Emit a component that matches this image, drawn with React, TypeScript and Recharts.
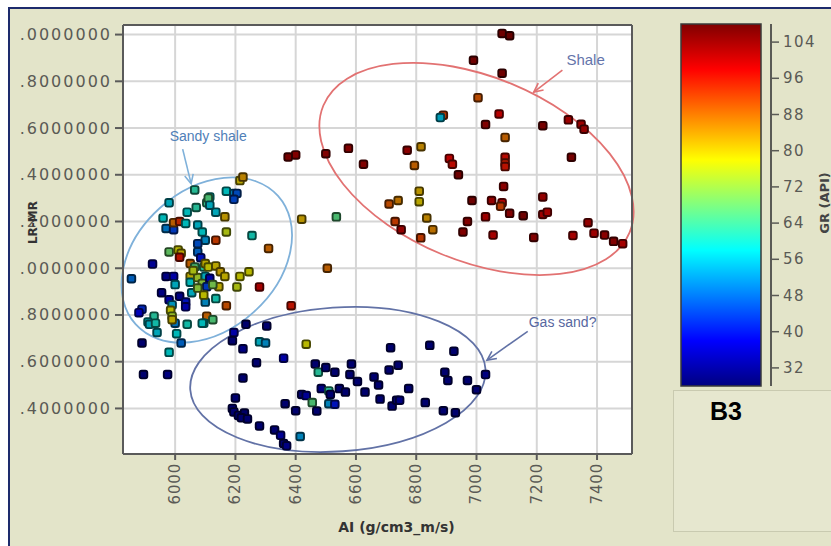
import React from 'react';
import {
  ScatterChart,
  Scatter,
  XAxis,
  YAxis,
  CartesianGrid,
  ReferenceArea,
  ReferenceLine,
} from 'recharts';

// Axis ticks
const AI_TICKS = [6000, 6200, 6400, 6600, 6800, 7000, 7200, 7400];
const RATIO_TICKS = [1.4, 1.6, 1.8, 2.0, 2.2, 2.4, 2.6, 2.8, 3.0];
const GR_TICKS = [32, 40, 48, 56, 64, 72, 80, 88, 96, 104];

const AI_DOMAIN: [number, number] = [5827, 7516];
const RATIO_DOMAIN: [number, number] = [1.205, 3.041];
const GR_MIN = 28;
const GR_MAX = 108;

// Samples: [AI (g/cm3_m/s), LR-MR, GR (API)]
type Sample = [number, number, number];

const SHALE: Sample[] = [
  [7085, 3.005, 106], [7110, 2.995, 107], [6990, 2.89, 106], [7085, 2.835, 106],
  [7005, 2.73, 90], [6890, 2.655, 92], [6880, 2.645, 55], [7075, 2.66, 98],
  [7030, 2.615, 104], [7220, 2.61, 105], [7305, 2.635, 101], [7347, 2.616, 101],
  [7357, 2.595, 102], [7095, 2.56, 88], [6575, 2.513, 104], [6500, 2.49, 104],
  [6770, 2.505, 103], [6816, 2.52, 84], [6794, 2.44, 88], [6910, 2.47, 98],
  [6920, 2.445, 97], [7095, 2.475, 97], [7095, 2.45, 95], [7095, 2.435, 96],
  [6940, 2.4, 106], [7315, 2.475, 105], [7090, 2.35, 103], [6810, 2.33, 82],
  [6810, 2.285, 80], [6740, 2.29, 86], [6710, 2.275, 90], [6985, 2.29, 106],
  [7050, 2.29, 102], [7085, 2.28, 98], [7080, 2.265, 92], [7110, 2.235, 104],
  [7155, 2.225, 106], [7220, 2.305, 102], [7220, 2.23, 101], [7235, 2.24, 100],
  [7030, 2.22, 101], [6970, 2.2, 104], [6835, 2.215, 84], [6730, 2.2, 92],
  [6750, 2.165, 102], [6855, 2.165, 86], [6815, 2.13, 92], [6955, 2.155, 104],
  [7055, 2.142, 100], [7190, 2.132, 104], [7320, 2.14, 100], [7370, 2.195, 102],
  [7390, 2.15, 101], [7425, 2.142, 103], [7455, 2.115, 104], [7485, 2.105, 100],
  [6625, 2.445, 104],
];

const SCATTERED: Sample[] = [
  [6400, 2.485, 104], [6375, 2.476, 105], [6535, 2.22, 66], [6420, 2.21, 82],
  [6505, 2.0, 88], [6310, 2.085, 88], [6280, 1.92, 100], [6385, 1.84, 96],
  [6435, 1.675, 78], [6255, 2.14, 60],
];

const SANDY_SHALE: Sample[] = [
  [6215, 2.375, 80], [6225, 2.39, 84], [6170, 2.33, 58], [6195, 2.32, 52],
  [6205, 2.32, 46], [6195, 2.295, 45], [6115, 2.305, 58], [6105, 2.28, 64],
  [6135, 2.24, 56], [6165, 2.22, 82], [6170, 2.155, 76], [6135, 2.12, 92],
  [6245, 1.985, 78], [6215, 1.965, 78], [6205, 1.92, 76], [6170, 1.84, 90],
  [6135, 1.87, 60], [6100, 1.855, 52], [6105, 1.795, 88], [6125, 1.78, 66],
  [6095, 1.765, 58], [6065, 2.335, 62], [5980, 2.28, 56], [6040, 2.24, 58],
  [6070, 2.26, 62], [6110, 2.3, 66], [5960, 2.215, 58], [5970, 2.17, 50],
  [5995, 2.165, 44], [5995, 2.195, 88], [6015, 2.2, 94], [6035, 2.192, 58],
  [6075, 2.185, 56], [6090, 2.155, 58], [6100, 2.12, 52], [6075, 2.105, 46],
  [5980, 2.07, 68], [6010, 2.078, 78], [6020, 2.064, 80], [6015, 2.047, 96],
  [6075, 2.07, 48], [6085, 2.045, 40], [5925, 2.018, 34], [6050, 2.02, 88],
  [6065, 2.005, 66], [6095, 2.005, 62], [6100, 2.02, 80], [6110, 2.005, 78],
  [6135, 2.01, 80], [6150, 1.985, 82], [6165, 1.965, 80], [5855, 1.955, 48],
  [5970, 1.965, 32], [5995, 1.965, 36], [6050, 1.965, 80], [6050, 1.94, 58],
  [6075, 1.96, 74], [6100, 1.965, 56], [6090, 1.935, 72], [6115, 1.957, 36],
  [6145, 1.921, 80], [6105, 1.921, 44], [6000, 1.93, 56], [5955, 1.895, 32],
  [6015, 1.88, 32], [6035, 1.855, 40], [5980, 1.865, 36], [5990, 1.843, 54],
  [6035, 1.835, 36], [6055, 1.895, 56], [5890, 1.825, 42], [5880, 1.81, 38],
  [5930, 1.795, 62], [5910, 1.77, 58], [5915, 1.76, 56], [5935, 1.765, 60],
  [5985, 1.82, 78], [5990, 1.795, 74], [6000, 1.765, 50], [5990, 1.78, 80],
  [6040, 1.76, 60], [5940, 1.725, 56], [6005, 1.72, 58], [5890, 1.68, 30],
  [6020, 1.68, 48], [5980, 1.64, 58], [6090, 1.765, 58], [6115, 2.27, 56],
  [6060, 1.99, 76], [6125, 1.93, 70], [6075, 1.915, 72], [6095, 1.885, 78],
];

const GAS_SAND: Sample[] = [
  [6235, 1.76, 30], [6304, 1.753, 30], [6195, 1.725, 36], [6190, 1.69, 30],
  [6280, 1.685, 56], [6300, 1.68, 52], [6225, 1.655, 32], [6270, 1.596, 30],
  [6360, 1.615, 36], [5895, 1.545, 30], [5975, 1.545, 32], [6225, 1.53, 30],
  [6200, 1.445, 30], [6190, 1.4, 30], [6195, 1.385, 30], [6210, 1.37, 30],
  [6230, 1.38, 29], [6220, 1.36, 30], [6240, 1.355, 30], [6280, 1.325, 30],
  [6330, 1.308, 30], [6350, 1.285, 34], [6360, 1.25, 30], [6370, 1.24, 32],
  [6415, 1.28, 52], [6400, 1.39, 30], [6365, 1.42, 30], [6420, 1.46, 30],
  [6435, 1.455, 34], [6455, 1.425, 66], [6470, 1.389, 30], [6485, 1.485, 32],
  [6510, 1.475, 62], [6515, 1.46, 30], [6545, 1.485, 30], [6565, 1.47, 30],
  [6510, 1.42, 52], [6530, 1.418, 40], [6465, 1.59, 30], [6475, 1.555, 62],
  [6500, 1.575, 30], [6530, 1.555, 30], [6585, 1.59, 30], [6580, 1.545, 30],
  [6605, 1.515, 30], [6630, 1.47, 30], [6660, 1.535, 30], [6675, 1.5, 30],
  [6680, 1.44, 30], [6710, 1.565, 30], [6715, 1.66, 30], [6740, 1.585, 30],
  [6720, 1.41, 30], [6735, 1.435, 30], [6745, 1.435, 32], [6775, 1.485, 30],
  [6830, 1.425, 30], [6845, 1.67, 30], [6895, 1.555, 30], [6905, 1.52, 30],
  [6925, 1.645, 30], [6890, 1.39, 30], [6930, 1.382, 30], [6970, 1.52, 30],
  [7000, 1.48, 30], [7030, 1.545, 32],
];

// Interpretation outlines: centre, semi-axes (AI units, LR-MR units), tilt in degrees
const ZONES = [
  { name: 'sandy', ai: 6105, ratio: 2.035, dAi: 318, dRatio: 0.3, tilt: -42, color: '#7fb1da' },
  { name: 'gas', ai: 6540, ratio: 1.524, dAi: 491, dRatio: 0.308, tilt: -4, color: '#6272a6' },
  { name: 'shale', ai: 7000, ratio: 2.425, dAi: 550, dRatio: 0.394, tilt: 22.5, color: '#e27272' },
];

// Callouts: text with an arrow from tail to tip
const CALLOUTS = [
  { text: 'Sandy shale', tail: [6025, 2.51], tip: [6053, 2.362], color: '#7fb1da', textColor: '#4f80b8', dx: -13, dy: -13, size: 14 },
  { text: 'Gas sand?', tail: [7170, 1.73], tip: [7035, 1.607], color: '#6272a6', textColor: '#5767a0', dx: 1, dy: -9, size: 14 },
  { text: 'Shale', tail: [7285, 2.848], tip: [7190, 2.754], color: '#e27272', textColor: '#6474aa', dx: 4, dy: -11, size: 15 },
];

const clamp = (v: number) => Math.max(0, Math.min(1, v));

function jet(gr: number): [number, number, number] {
  const t = clamp((gr - GR_MIN) / (GR_MAX - GR_MIN));
  return [
    clamp(1.5 - Math.abs(4 * t - 3)),
    clamp(1.5 - Math.abs(4 * t - 2)),
    clamp(1.5 - Math.abs(4 * t - 1)),
  ];
}

const rgb = (c: [number, number, number], k = 1) =>
  `rgb(${Math.round(c[0] * 255 * k)},${Math.round(c[1] * 255 * k)},${Math.round(c[2] * 255 * k)})`;

const toRows = (list: Sample[]) => list.map(([ai, ratio, gr]) => ({ ai, ratio, gr }));

// Small rounded square, filled with the GR colour and ringed with a darker shade
const Marker = (props: any) => {
  const { cx, cy, payload } = props;
  if (cx == null || cy == null) return null;
  const c = jet(payload.gr);
  return (
    <rect
      x={cx - 3.8}
      y={cy - 3.8}
      width={7.6}
      height={7.6}
      rx={2}
      fill={rgb(c, 0.72)}
      stroke={rgb(c, 0.28)}
      strokeWidth={1.9}
    />
  );
};

const XTick = (props: any) => {
  const { x, y, payload } = props;
  return (
    <text
      transform={`translate(${x},${y}) rotate(-90)`}
      textAnchor="end"
      dominantBaseline="central"
      fontSize={15}
      letterSpacing={0.8}
      fill="#5a5a55"
      fontFamily="DejaVu Sans"
    >
      {payload.value}
    </text>
  );
};

const YTick = (props: any) => {
  const { x, y, payload } = props;
  return (
    <text
      x={x}
      y={y}
      textAnchor="end"
      dominantBaseline="central"
      fontSize={16}
      letterSpacing={2}
      fill="#5a5a55"
      fontFamily="DejaVu Sans"
    >
      {Number(payload.value).toFixed(7)}
    </text>
  );
};

const makeEllipse = (zone: (typeof ZONES)[number]) => (p: any) => {
  const cx = p.x + p.width / 2;
  const cy = p.y + p.height / 2;
  return (
    <ellipse
      cx={cx}
      cy={cy}
      rx={Math.abs(p.width) / 2}
      ry={Math.abs(p.height) / 2}
      transform={`rotate(${zone.tilt} ${cx} ${cy})`}
      fill="none"
      stroke={zone.color}
      strokeWidth={1.8}
    />
  );
};

const makeArrow = (c: (typeof CALLOUTS)[number]) => (p: any) => {
  const { x1, y1, x2, y2 } = p;
  const ang = Math.atan2(y2 - y1, x2 - x1);
  const len = 10;
  const spread = 0.45;
  const a1x = x2 - len * Math.cos(ang - spread);
  const a1y = y2 - len * Math.sin(ang - spread);
  const a2x = x2 - len * Math.cos(ang + spread);
  const a2y = y2 - len * Math.sin(ang + spread);
  return (
    <g>
      <line x1={x1} y1={y1} x2={x2} y2={y2} stroke={c.color} strokeWidth={1.6} />
      <polyline
        points={`${a1x},${a1y} ${x2},${y2} ${a2x},${a2y}`}
        fill="none"
        stroke={c.color}
        strokeWidth={1.6}
      />
      <text
        x={x1 + c.dx}
        y={y1 + c.dy}
        dominantBaseline="central"
        fontSize={c.size}
        fontFamily="Liberation Sans"
        fill={c.textColor}
      >
        {c.text}
      </text>
    </g>
  );
};

const CB = { x: 681, y: 24, w: 80, h: 362, axisX: 771 };
const grToY = (gr: number) => CB.y + ((GR_MAX - gr) / (GR_MAX - GR_MIN)) * CB.h;

const ColorBar = () => {
  const stops = Array.from({ length: 17 }, (_, i) => i / 16);
  return (
    <svg
      width={831}
      height={546}
      style={{ position: 'absolute', left: 0, top: 0, pointerEvents: 'none' }}
    >
      <defs>
        <linearGradient id="grJet" x1="0" y1="0" x2="0" y2="1">
          {stops.map((s) => (
            <stop key={s} offset={s} stopColor={rgb(jet(GR_MAX - s * (GR_MAX - GR_MIN)))} />
          ))}
        </linearGradient>
      </defs>
      <rect x={CB.x} y={CB.y} width={CB.w} height={CB.h} fill="url(#grJet)" stroke="#3a3a3a" strokeWidth={1.5} />
      <line x1={CB.axisX} y1={CB.y} x2={CB.axisX} y2={CB.y + CB.h} stroke="#5a5a55" strokeWidth={2} />
      {GR_TICKS.map((t) => (
        <g key={t}>
          <line x1={CB.axisX} y1={grToY(t)} x2={CB.axisX + 8} y2={grToY(t)} stroke="#5a5a55" strokeWidth={1.5} />
          <text
            x={CB.axisX + 12}
            y={grToY(t)}
            dominantBaseline="central"
            fontSize={15}
            letterSpacing={1.5}
            fill="#5a5a55"
            fontFamily="DejaVu Sans"
          >
            {t}
          </text>
        </g>
      ))}
      <text
        transform="translate(824,203) rotate(-90)"
        textAnchor="middle"
        dominantBaseline="central"
        fontSize={13}
        fontWeight="bold"
        fill="#444"
        fontFamily="DejaVu Sans"
      >
        GR (API)
      </text>
      <text x={726} y={420} textAnchor="middle" fontSize={25} fontWeight="bold" fill="#000" fontFamily="Liberation Sans">
        B3
      </text>
    </svg>
  );
};

export default function App() {
  return (
    <div
      style={{
        position: 'absolute',
        left: 0,
        top: 0,
        width: 831,
        height: 546,
        background: '#ffffff',
        overflow: 'hidden',
        fontFamily: 'DejaVu Sans',
      }}
    >
      <div
        style={{
          position: 'absolute',
          left: 8,
          top: 7,
          right: 0,
          bottom: 0,
          background: '#e3e4c9',
          borderLeft: '2px solid #1d2b6c',
          borderTop: '2px solid #1d2b6c',
        }}
      />
      <div
        style={{
          position: 'absolute',
          left: 673,
          top: 390,
          width: 170,
          height: 140,
          background: '#e6e7cf',
          border: '1px solid #c9cab0',
        }}
      />
      <div style={{ position: 'absolute', left: 0, top: 0, clipPath: 'inset(0px 0px 0px 20px)' }}>
        <ScatterChart width={831} height={546} margin={{ top: 15, right: 189, bottom: 0, left: 0 }}>
          <CartesianGrid fill="#ffffff" stroke="#d6d6d6" strokeWidth={2} />
          <XAxis
            xAxisId={0}
            type="number"
            dataKey="ai"
            domain={AI_DOMAIN}
            ticks={AI_TICKS}
            allowDataOverflow
            height={92}
            axisLine={{ stroke: '#5a5a5a', strokeWidth: 2 }}
            tickLine={{ stroke: '#5a5a5a', strokeWidth: 2 }}
            tickSize={6}
            tickMargin={3}
            tick={<XTick />}
            interval={0}
            label={{
              value: 'AI  (g/cm3_m/s)',
              position: 'insideBottom',
              offset: 14,
              dx: 19,
              style: { fontSize: 14, fontWeight: 'bold', fill: '#333', fontFamily: 'DejaVu Sans' },
            }}
          />
          <XAxis
            xAxisId="top"
            orientation="top"
            type="number"
            domain={AI_DOMAIN}
            ticks={AI_TICKS}
            allowDataOverflow
            height={10}
            axisLine={{ stroke: '#5a5a5a', strokeWidth: 2 }}
            tickLine={{ stroke: '#5a5a5a', strokeWidth: 2 }}
            tickSize={5}
            tick={false}
            interval={0}
          />
          <YAxis
            yAxisId={0}
            type="number"
            dataKey="ratio"
            domain={RATIO_DOMAIN}
            ticks={RATIO_TICKS}
            allowDataOverflow
            width={123}
            axisLine={{ stroke: '#5a5a5a', strokeWidth: 2 }}
            tickLine={{ stroke: '#5a5a5a', strokeWidth: 2 }}
            tickSize={8}
            tickMargin={3}
            tick={<YTick />}
            interval={0}
            label={{
              value: 'LR-MR',
              angle: -90,
              position: 'insideLeft',
              offset: 33,
              dy: -17,
              style: { fontSize: 12, fontWeight: 'bold', fill: '#333', fontFamily: 'DejaVu Sans', textAnchor: 'middle' },
            }}
          />
          <YAxis
            yAxisId="right"
            orientation="right"
            type="number"
            domain={RATIO_DOMAIN}
            ticks={RATIO_TICKS}
            allowDataOverflow
            width={10}
            axisLine={{ stroke: '#5a5a5a', strokeWidth: 2 }}
            tickLine={{ stroke: '#5a5a5a', strokeWidth: 2 }}
            tickSize={5}
            tick={false}
            interval={0}
          />
          <Scatter data={toRows(SANDY_SHALE)} shape={<Marker />} isAnimationActive={false} />
          <Scatter data={toRows(SCATTERED)} shape={<Marker />} isAnimationActive={false} />
          <Scatter data={toRows(GAS_SAND)} shape={<Marker />} isAnimationActive={false} />
          <Scatter data={toRows(SHALE)} shape={<Marker />} isAnimationActive={false} />
          {ZONES.map((z) => (
            <ReferenceArea
              key={z.name}
              x1={z.ai - z.dAi}
              x2={z.ai + z.dAi}
              y1={z.ratio - z.dRatio}
              y2={z.ratio + z.dRatio}
              ifOverflow="visible"
              shape={makeEllipse(z)}
            />
          ))}
          {CALLOUTS.map((c) => (
            <ReferenceLine
              key={c.text}
              segment={[
                { x: c.tail[0], y: c.tail[1] },
                { x: c.tip[0], y: c.tip[1] },
              ]}
              ifOverflow="visible"
              shape={makeArrow(c)}
            />
          ))}
        </ScatterChart>
      </div>
      <ColorBar />
    </div>
  );
}
